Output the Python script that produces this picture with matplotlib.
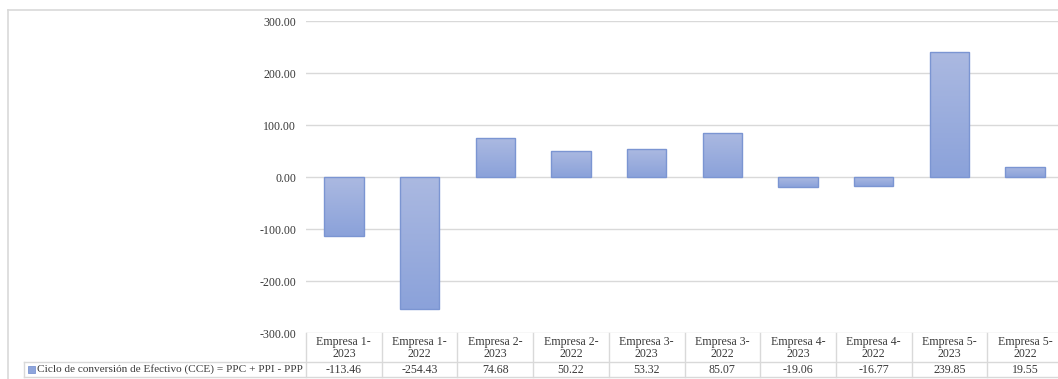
import numpy as np
import matplotlib.pyplot as plt
import matplotlib.transforms as mtransforms
from matplotlib.lines import Line2D
from matplotlib.patches import Rectangle
from matplotlib.colors import LinearSegmentedColormap

# datos del ciclo de conversión de efectivo por empresa y año
empresas = ["Empresa 1-\n2023", "Empresa 1-\n2022", "Empresa 2-\n2023", "Empresa 2-\n2022",
            "Empresa 3-\n2023", "Empresa 3-\n2022", "Empresa 4-\n2023", "Empresa 4-\n2022",
            "Empresa 5-\n2023", "Empresa 5-\n2022"]
cce = [-113.46, -254.43, 74.68, 50.22, 53.32, 85.07, -19.06, -16.77, 239.85, 19.55]
serie = "Ciclo de conversión de Efectivo (CCE) = PPC + PPI - PPP"

W, H = 1058, 379
plt.rcParams["font.family"] = ["Liberation Serif", "DejaVu Serif"]
txt = "#3a3a3a"
gris = "#d9d9d9"
fs = 8.6

fig = plt.figure(figsize=(W / 100, H / 100), dpi=100)

# area de grafico en pixeles (izq, arriba, der, abajo)
x0, y_top, x1, y_bot = 306, 21, 1063, 333
ax = fig.add_axes([x0 / W, 1 - y_bot / H, (x1 - x0) / W, (y_bot - y_top) / H])

x = np.arange(len(cce))
bars = ax.bar(x, cce, width=0.52, color="none", edgecolor="#7b95d2", linewidth=1, zorder=3)

# degradado vertical dentro de cada barra
grad = np.linspace(0, 1, 100).reshape(-1, 1)
cmap = LinearSegmentedColormap.from_list("cce", ["#abb9e1", "#8ba2da"])
for b in bars:
    bx, by = b.get_x(), b.get_y()
    bw, bh = b.get_width(), b.get_height()
    lo, hi = min(by, by + bh), max(by, by + bh)
    im = ax.imshow(grad, cmap=cmap, aspect="auto", extent=[bx, bx + bw, lo, hi],
                   origin="upper", zorder=2)
    im.set_clip_path(b)

ax.set_xlim(-0.5, len(cce) - 0.5)
ax.set_ylim(-300, 300)
ax.set_yticks(np.arange(-300, 301, 100))
ax.set_yticklabels([f"{v:.2f}" for v in np.arange(-300, 301, 100)], fontsize=fs, color=txt)
ax.tick_params(axis="y", length=0, pad=7)
ax.set_xticks([])
ax.grid(axis="y", color=gris, linewidth=1, zorder=0)
for s in ax.spines.values():
    s.set_visible(False)


# tabla de datos debajo del grafico
def fy(py):
    return 1 - py / H


bt = mtransforms.blended_transform_factory(ax.transData, fig.transFigure)

y_h0, y_h1, y_r1 = 333, 362, 377
for i in range(len(cce) + 1):
    fig.add_artist(Line2D([i - 0.5, i - 0.5], [fy(y_h0), fy(y_r1)], transform=bt,
                          color=gris, linewidth=1))
fig.add_artist(Line2D([24 / W, 1], [fy(y_h1), fy(y_h1)], color=gris, linewidth=1))
fig.add_artist(Line2D([24 / W, 1], [fy(y_r1), fy(y_r1)], color=gris, linewidth=1))
fig.add_artist(Line2D([24 / W, 24 / W], [fy(y_h1), fy(y_r1)], color=gris, linewidth=1))

for i, (lab, v) in enumerate(zip(empresas, cce)):
    fig.text(i, fy((y_h0 + y_h1) / 2 + 0.5), lab, transform=bt, ha="center", va="center",
             fontsize=fs, color=txt, linespacing=1.05)
    fig.text(i, fy((y_h1 + y_r1) / 2 + 0.5), f"{v:.2f}", transform=bt, ha="center",
             va="center", fontsize=fs, color=txt)

# clave de la serie
fig.add_artist(Rectangle((28 / W, fy(373)), 7 / W, 7 / H, facecolor="#8ea5dc",
                         edgecolor="#7b95d2", linewidth=0.6))
fig.text(37 / W, fy(369.5), serie, ha="left", va="center", fontsize=8.15, color=txt)

# marco del area del grafico
fig.add_artist(Line2D([8 / W, 1], [fy(10), fy(10)], color=gris, linewidth=1.2))
fig.add_artist(Line2D([8 / W, 8 / W], [fy(10), 0], color=gris, linewidth=1.2))

fig.savefig("out.png", dpi=100)
